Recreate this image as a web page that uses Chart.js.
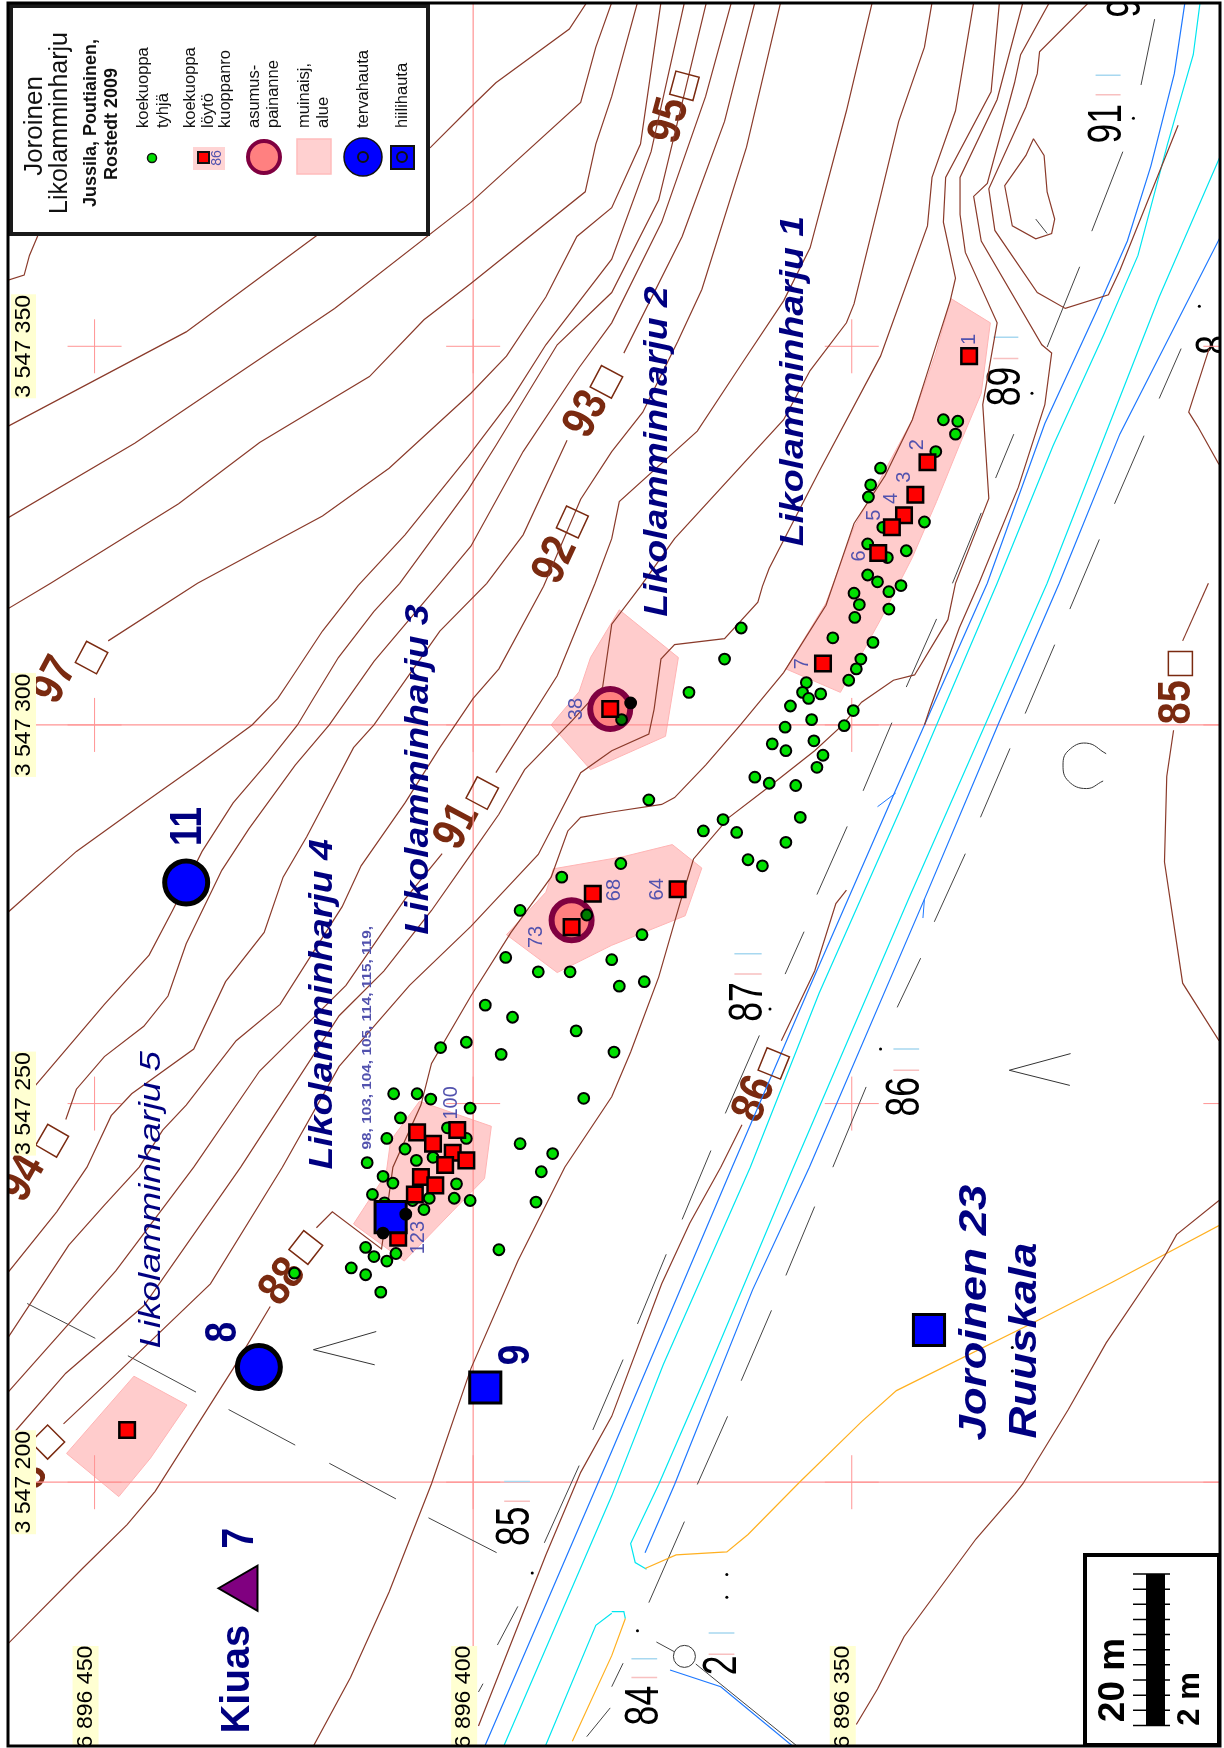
<!DOCTYPE html>
<html lang="fi">
<head>
<meta charset="utf-8">
<title>Joroinen Likolamminharju</title>
<script src="https://cdn.jsdelivr.net/npm/chart.js@4/dist/chart.umd.min.js"></script>
<style>
  html, body { margin: 0; background: #fff; }
  canvas { display: block; }
</style>
</head>
<body>
<canvas id="map" width="1224" height="1748"></canvas>
<script>
/* All positions: [metres north of 6 896 400, metres east of 3 547 300] */

/* Grid */
const northTicks = [50, 0, -50];
const eastTicks = [50, 0, -50, -100];
const crossNorth = [50, 0, -50, -100];
const gridLineNorth = [[0, 96], [0, -121.8]];
const gridLineEast0 = [[58, 0], [-99, 0]];
const gridLineEast100 = [[58, -100], [-99, -100]];

/* Contours */
const contourA = [[61.5,58.7],[59.3,59.4],[58.6,62],[57.5,64.6]];
const contourB = [[61.5,39.4],[37.9,51.9],[20.7,64.6],[5.6,76.3],[0.3,81.6],[-3,84.8],[-12.7,91.9],[-15,95.4]];
const contourC = [[61.5,27.3],[44.7,37.2],[18.3,55],[0.3,69],[-14.2,82.2],[-16.2,89.5],[-18.3,95.4]];
const contourD = [[-21.7,95.4],[-18.3,83],[-16.2,76.7],[-14.8,70.4],[0.3,58.3],[6.5,53.5],[13.7,46],[28.2,37.3],[38.9,29.2],[55.8,18.7],[61.5,15.3]];
const contourE = [[-24.8,95.4],[-22.1,76.7],[-18.3,68.3],[-13.7,64.5],[-9.6,56.5],[-4.4,48.7],[0.3,43.8],[11.1,33.9],[19.9,27.6],[36.4,18.7],[48.2,11.1]];
const contourF = [[-27.9,95.4],[-23.5,75.7],[-18.3,61.5],[-9.6,50.2],[-4.9,42.8],[0.7,35.4],[9,25.1],[15.2,18.4],[19.9,12.4],[24.2,5.9],[25.8,3.5],[29.2,0],[36.4,-5.3],[43.5,-10.3],[52.4,-16.7],[61.5,-24.8]];
const contourG = [[-30.8,95.4],[-24.5,69.3],[-18.3,57.1],[-11.1,50.2],[-3,36.9],[0.7,31],[9.7,18.7],[13.1,15],[17.8,8.9],[21.4,3],[23.2,0],[27.1,-4.9],[31.7,-10.3],[35.8,-16.7],[39.7,-24.5],[42.8,-30.4],[48.7,-36.9],[57.8,-47.6]];
const contourH = [[-34.1,95.4],[-30.7,83],[-24.9,66.4],[-18.3,53.1],[-14,47.2],[-6.6,36.1],[0.3,23.6],[4.4,18.7],[13.1,8.4],[19,0],[23.5,-5.3],[29.6,-13.7],[33.2,-19.2],[37.9,-28.9],[40.3,-35.8],[43.5,-39.8],[48.7,-43.8],[52.4,-48.1],[53.8,-52.1]];
const contourI1 = [[-37.2,95.4],[-33.2,79.7],[-27.6,64.5],[-19.9,49.1]];
const contourI2 = [[-12.4,37.6],[-6.6,25.1],[-1.8,18.7],[4.4,12.4],[13.1,0],[15.8,-3],[19.9,-10.8],[22,-14.8],[25.1,-20.1],[27.6,-27.4],[32.7,-33.9],[36.9,-42.8],[45.1,-48.7],[47.8,-51.6],[51,-58.4],[55,-64.3],[61.5,-72.4]];
const contourJ = [[-40.6,95.4],[-36.1,76.3],[-30.2,57.5],[-27,50.6],[-22.4,41.3],[-18.3,36.1],[-14.2,29.8],[-9.3,18.3],[-3.4,7.4],[0,3.5],[4.4,-3],[9,-10.3],[14.8,-18.6],[17.3,-24],[25.5,-36.9],[31.3,-41.7],[37.9,-50.2],[41,-53.5],[44.1,-58.4],[48.7,-63.4],[53.4,-68.7],[61.5,-81]];
const contourK1 = [[-52.7,95.4],[-49.3,81.1],[-44.5,63],[-41,56],[-35.4,47.6],[-29.6,38.8],[-19.3,29.5],[-18.3,24.6],[-16.1,18.7],[-11.1,6.5],[-3,-6.3]];
const contourK2 = [[4.1,-17],[9,-23],[16.8,-34.4],[28.2,-45.7],[36.9,-58.4],[47.2,-72.1],[61.5,-88.2]];
const contourL = [[-60.6,95.4],[-59.6,89.5],[-56.2,79.7],[-53.8,69.8],[-50.3,55.6],[-49.3,53.1],[-44.5,46.8],[-41,40.3],[-26.6,24.6],[-22.1,18.3],[-18.3,13.3],[-17.1,5],[-13.1,0.6],[-6.8,-5.9],[-3.4,-11.8],[0.3,-17.1],[5.5,-24.5],[11.8,-32.5],[17.7,-38.4],[30.7,-58.4],[43.5,-76.7],[53.8,-85.6],[60.6,-93.4]];
const contourM = [[-66.1,95.4],[-63.7,81.1],[-60.6,72.3],[-60,65.9],[-53.8,48.7],[-45.7,33.5],[-39.1,20.7],[-38.2,18.3],[-37.6,16.2],[-33.2,11.4],[-26.6,10.6],[-24.8,8.7],[-23.9,2.1],[-23.2,-1.2],[-18.3,-3.4],[-14.2,-6.3],[-8.6,-17.1],[0.3,-26.6],[8.4,-34.4],[17.7,-45.1],[25.2,-58.4],[34.7,-73.8],[47.2,-85.8],[54.1,-92.3]];
const contourN1 = [[-69.5,95.4],[-68.4,83.6],[-62.4,72.3],[-62.1,66.4],[-63.7,59],[-63,56],[-59.6,45.3],[-58,40.3],[-54.4,32.9],[-50.3,26.6],[-47.6,18.7],[-46.6,15.8],[-41,6.9],[-35.3,0],[-30.7,-5.3],[-26.6,-9.6],[-24.9,-10.5],[-18.3,-11.5],[-14.2,-12.2],[-12.5,-14],[-10.3,-20.1],[-5,-27.4],[0.3,-35.8],[5.5,-44.7],[6.9,-50.2],[10.6,-58.4],[12.1,-69.2],[18.6,-64.3],[20.7,-66.4]];
const contourN2 = [[26.8,-76.8],[31.7,-85],[42,-101.2],[45.7,-105.6],[51.6,-111.4],[61.5,-121.4]];
const contourO = [[-72.6,95.4],[-69.2,82.6],[-64.3,72.3],[-64.3,67.4],[-65,62.4],[-69.2,53.1],[-67.3,42.3],[-68.1,29.9],[-63.7,18.7],[-62.7,13.9],[-58.3,6.6],[-55.5,5.9],[-51.3,3],[-48.7,-0.1],[-45.1,-3.4],[-38.9,-8.3],[-33.8,-12.2],[-29.1,-17.7],[-27.3,-23.6],[-24.5,-33.3],[-20.8,-43.2],[-18.3,-49.1],[-12.1,-58.4],[-5.9,-70.8],[0.3,-85],[5.5,-100.2],[11.1,-114.5],[16.2,-125.8],[21.4,-135.4]];
const contourP1 = [[-76.1,95.4],[-72.3,88.5],[-71.5,84.8],[-67.9,71.5],[-66.1,69.8],[-67.1,63.9],[-75.1,50.2],[-76.4,49.1],[-75.5,42.3],[-72,31.4],[-66.8,18.7],[-64.2,12.8],[-60.3,2.1],[-59.6,0]];
const contourP2 = [[-49.3,-21.8],[-47.9,-23.6],[-45.1,-32.5],[-40.7,-41.7]];
const contourP3 = [[-35.5,-52.8],[-32.7,-58.4],[-28.6,-65.8],[-24.9,-73.8],[-18.3,-91.3],[-14.2,-98.7],[-9.6,-109.6],[-0.7,-132.2]];
const contourQ = [[-81.3,95.4],[-74.8,88.9],[-74.5,86],[-73,81.6],[-68.1,70.8],[-68.9,65.3],[-74.5,57.1],[-78.2,55],[-83.9,56.8],[-85.4,60],[-93.1,79.2]];
const contourHill = [[-74,77.4],[-75.4,75.2],[-75.8,70.4],[-76.8,66.8],[-76.4,64.9],[-74.3,64.2],[-71.2,65.9],[-70.2,71.2],[-73,75.2],[-74,77.4]];
const contourR1 = [[-97.1,18.7],[-93.7,11.1]];
const contourR2 = [[-92.5,-0.7],[-91.6,-6.8],[-91.3,-18.1],[-93.7,-34.1],[-98.5,-41.7]];
const contourR3 = [[-97.2,49.7],[-94.5,41.3],[-95.7,39.4],[-98.5,34.4]];
const contourS = [[-98.5,-62.8],[-92.9,-67.3],[-91.3,-70.2],[-83.6,-81.6],[-78.6,-90.4],[-72.6,-100.2],[-71.5,-101.6],[-66.4,-107.5],[-56.9,-120.4],[-53.4,-127.3],[-50.6,-132]];

/* Road, ditch and path lines */
const pathOrange = [[-98.5,-66.1],[-84.4,-73.6],[-74.6,-78.6],[-55.9,-87.9],[-51.3,-92],[-43.1,-100],[-36.3,-106.9],[-33.5,-109.2],[-26.8,-109.6],[-22.7,-111.4]];
const pathOrange2 = [[-20.1,-118],[-18.3,-122.9],[-13.1,-134.2]];
const roadBlueA = [[-94,95.4],[-92.6,86],[-89.5,73.8],[-86.4,63.9],[-82.3,54.6],[-75.5,39.8],[-67.9,18.7],[-59.6,0],[-55.5,-9.3],[-44.1,-35.4],[-34.2,-58.4],[-18.3,-95.9],[-1.3,-135.4]];
const roadCyanA = [[-96,95.4],[-95.1,88.5],[-91.7,76.7],[-87.8,62],[-83.3,51.6],[-76.6,36.9],[-69.2,18.7],[-61.2,0],[-56.8,-10.3],[-45.7,-35.4],[-36.6,-58.4],[-25.1,-84.5],[-18.3,-101.8],[-3.8,-135.4]];
const roadCyanB = [[-98.7,75.2],[-90.6,56.5],[-75.8,18.7],[-67.6,0],[-57.5,-23],[-42.3,-58.4],[-30.7,-86],[-24.5,-100.3],[-20.8,-108.1],[-21.4,-110.6],[-22.9,-111.5]];
const roadBlueB = [[-98.7,64.5],[-85.4,38.4],[-77.4,18.7],[-69.3,0],[-59.6,-23],[-44.4,-58.4],[-36.9,-74.6],[-26.6,-100.3],[-22.7,-109.3]];
const roadCyanC = [[-18.3,-117.3],[-16.2,-118.9],[-9.3,-135.4]];
const roadCyanD = [[-18.3,-117.1],[-19.9,-117.1],[-20.1,-118]];
const ditchBlue = [[-26,-124.8],[-32.7,-127],[-42.5,-135.1]];
const blueTicks = [[-53.4,-10.8,-55.8,-9],[-59.6,-23,-59.4,-25.5]];

/* Thin black line pieces: [n1, e1, n2, e2] */
const blackDashes = [
  [-90,93.2,-88.2,84.5],[-85.8,75.7,-81.7,65.2],[-80.1,60.5,-75.8,49.9],[-71.4,38.4,-69,32.6],
  [-93.5,49.7,-90.6,43.1],[-88.6,38.2,-84.7,29.2],[-82.7,24.5,-78.8,15.3],[-67.1,28,-63.3,18.7],
  [-76.8,10.6,-72.9,1.5],[-70.9,-3.1,-67,-12.2],[-65,-17,-60.9,-26],[-59.1,-30.8,-56,-37.3],
  [-51.9,-47.8,-47.5,-58.4],[-61.2,14,-57.2,5],[-55.3,0.3,-51.5,-8.7],[-49.4,-13.4,-45.4,-22.4],
  [-43.7,-27.3,-41.2,-32.9],[-37.8,-41,-33.3,-51.3],[-31.4,-56.2,-27.6,-65.3],[-25.5,-69.9,-21.7,-79.1],
  [-19.8,-83.8,-15.8,-93.1],[-45.1,-63.6,-41.3,-72.7],[-39.4,-77.3,-35.4,-86.6],[-33.6,-91.3,-29.6,-100.3],
  [-27.9,-105.2,-23.2,-115.9],[-19.8,-123.9,-18.3,-127],[-14,-97.8,-9.4,-108],[-5.9,-116.4,-3.2,-121.5],
  [-1.3,-126.6,-0.7,-127.7],[-18.1,-129.8,-15,-133.6],
  [58.9,-76.4,49.9,-81],[45.6,-83.3,36.6,-88.1],[32.3,-90.4,23.5,-95.1],[19,-97.5,10.2,-102.2],[5.9,-104.7,-3.1,-109.3],
  [-24.2,-121.1,-26.6,-122.4],[-29.4,-124,-43.1,-135.1],[-74.3,66.8,-75.8,64.9]
];
const vMarkWest = [[12.8,-80.1],[21.1,-82.5],[13,-84.5]];
const vMarkEast = [[-78.9,-43.4],[-70.8,-45.6],[-78.8,-47.6]];
const arcMark = [[-83.6,-3.8],[-81,-2.4],[-78.6,-3.4],[-77.9,-5.3],[-78.6,-7.4],[-81,-8.4],[-83.2,-7.4]];
const wellMark = [[-27.9,-123]];
const blackSpecks = [[-87.2,80.1],[-73.8,43.8],[-39.2,-37.5],[-53.8,-42.8],[-7.8,-112],[-21.7,-119.6],[-33.5,-112.2],[-33.5,-115.2],[-95.9,55.3],[-71.2,-82.2],[-71.2,-85.3]];
const paleBlueBars = [[-68.7,51.2,-72,51.2],[-82.2,85.8,-85.5,85.8],[-34.5,-30.2,-38.1,-30.2],[-55.5,-42.8,-58.9,-42.8],[-4.1,-99.9,-7.5,-99.9],[-20.9,-123.3,-24.3,-123.3],[-31.1,-119.9,-34.5,-119.9]];
const palePinkBars = [[-68.7,48.4,-72,48.4],[-82.2,83.2,-85.5,83.2],[-34.5,-32.9,-38.1,-32.9],[-55.5,-45.6,-58.9,-45.6],[-4.1,-102.5,-7.5,-102.5],[-20.9,-125.8,-24.3,-125.8],[-31.1,-122.7,-34.5,-122.7]];

/* Ancient site areas */
const siteArea1 = [[-63.1,56.3],[-68.3,53.1],[-67.1,43.8],[-64.2,36.9],[-61.2,29.5],[-58,22.1],[-53.8,13.9],[-48.5,4.3],[-41.3,7.4],[-46.6,16.1],[-50.3,26.1],[-58,40.3],[-61.1,49.1],[-63.1,56.3]];
const siteArea2 = [[-10.3,0],[-15.5,-5.9],[-25.4,-1.5],[-27.1,8.9],[-19.3,15.2],[-15.5,8.9],[-14,4.4],[-10.3,0]];
const siteArea3 = [[-4.4,-27.7],[-11.1,-32.7],[-18.3,-29.1],[-28,-25.2],[-30.2,-18.9],[-26.3,-15.8],[-19.8,-17.4],[-10.6,-19],[-9.6,-22.1],[-4.4,-27.7]];
const siteArea4 = [[7.1,-49.7],[-2.4,-53],[-1.5,-59.9],[2.7,-64.2],[9.1,-70.8],[15.8,-65.9],[11.5,-59.3],[10.9,-54.9],[7.1,-49.7]];
const siteArea5 = [[44.8,-86],[37.8,-89.8],[42.6,-96.8],[46.8,-101.9],[53.7,-96.2],[44.8,-86]];

/* Test pits and finds */
const emptyPits = [
  [-62.1,40.3],[-64,40.1],[-63.7,38.4],[-61.1,36.1],[-53.8,33.9],[-52.5,31.7],[-52.2,30.1],[-59.6,26.8],[-54.1,26.1],[-52.1,23.9],
  [-57.2,23],[-54.7,22.1],[-52.1,19.8],[-53.4,18.9],[-56.5,18.4],[-50.3,17.4],[-51,15.9],[-50.4,14.2],[-54.9,17.6],[-54.9,15.3],
  [-47.5,11.5],[-52.8,10.9],[-51.2,8.7],[-50.6,7.4],[-49.6,5.9],[-44,5.6],[-43.5,4.3],[-44.3,3.5],[-45.9,4.1],[-41.9,2.5],
  [-50.2,1.9],[-44.7,0.7],[-41.2,-0.3],[-49,-0.1],[-45,-2.1],[-39.5,-2.5],[-41.3,-3.4],[-46.2,-4],[-45.4,-5.6],[-37.2,-6.9],
  [-39.1,-7.7],[-42.6,-8],[-23.2,-9.9],[-43.2,-12.2],[-33,-12.5],[-30.4,-14],[-34.8,-14.2],[-41.3,-15.5],[-36.3,-17.8],[-38.2,-18.6],
  [-19.5,-18.3],[-22.3,-27.7],[-22.6,-33.9],[-19.3,-34.5],[-18.3,-31],[-18.6,-43.2],[-35.4,12.8],[-33.2,8.7],[-28.5,4.3],[-11.7,-20.1],
  [-6.2,-24.5],[-4.3,-30.7],[-8.6,-32.6],[-12.8,-32.6],[-1.6,-37],[-5.2,-38.6],[-13.6,-40.4],[0.9,-41.9],[4.3,-42.6],[-3.7,-43.5],
  [-14.6,-49.3],[10.5,-48.7],[7.4,-48.7],[5.6,-49.4],[0.4,-50.6],[9.6,-51.9],[-6.2,-55.3],[-10.5,-56.6],[11.4,-54.6],[-9,-59],
  [-8.3,-63],[-3.4,-69.3],[9,-56],[14,-57.8],[7.5,-57.5],[5.3,-57.1],[3.4,-53.2],[0.9,-54.6],[11.9,-59.6],[10.6,-60.5],
  [2.2,-60.6],[2.5,-62.5],[0.4,-62.8],[13.3,-62],[11.7,-63.1],[5.8,-62.5],[6.5,-64],[8,-62.8],[14.2,-69],[13.1,-70.2],
  [11.4,-70.8],[10.2,-69.8],[16.1,-71.7],[14.2,-72.6],[12.2,-74.9],[23.6,-72.4]
];
const darkPits = [[-19.6,0.7],[-15,-25.1]];
const blackPits = [[-20.8,2.9],[11.9,-67.1],[8.9,-64.6]];
const findPits = [
  [-65.5,48.7],[-60,34.7],[-58.4,30.4],[-56.9,27.7],[-55.3,26.1],[-53.5,22.7],[-46.2,8.1],[-18.1,2.1],[-27,-21.7],[-15.8,-22.3],
  [-13,-26.7],[7.4,-53.8],[5.3,-55.3],[2.1,-53.5],[2.7,-56.5],[0.9,-57.5],[3.7,-58.1],[6.9,-59.7],[5,-60.8],[7.7,-62],[9.9,-67.7],[45.7,-93.1]
];
const charcoalPits = [[-1.6,-87.5],[-60.2,-79.9],[10.9,-65]];
const tarPits = [[28.3,-84.8],[37.9,-20.8]];
const dwellingPits = [[-18.1,2.1],[-13,-25.8]];
const hearths = [[30.2,-114]];

/* Text */
const siteNames = [
  ["Likolamminharju 1",-42.3,45.4],["Likolamminharju 2",-24.3,36.1],["Likolamminharju 3",7.2,-5.9],["Likolamminharju 4",19.9,-36.9]
];
const featureNumbers = [["8",32.9,-80.2],["9",-5.8,-83.2],["11",37.6,-13.4],["7",30.7,-107.4]];
const pitNumbers = [
  ["1",-65.5,50.9],["2",-58.7,37],["3",-56.9,32.7],["4",-55.3,29.9],["5",-53,27.7],["6",-51,22.3],["7",-43.5,8.1],
  ["38",-13.7,2.1],["64",-24.3,-21.7],["68",-18.7,-21.8],["73",-8.4,-28],["100",2.8,-49.9],["123",7.2,-67.7]
];
const contourLabels = [
  ["95",-26,79.8,-75],["93",-15,41,-62],["92",-10.9,21.7,-65],["97",55.2,5.9,-62],["91",2.1,-13.4,-62],
  ["94",59.4,-59.9,-60],["88",25.1,-73.6,-52],["86",-37.2,-49.4,-68],["85",-92.9,3,-90],["8",58.3,-99.1,-60]
];
const contourBoxes = [[-27.9,84.4],[-17.6,45.3],[-13.1,26.8],[50.4,8.9],[-1.2,-9],[55.6,-54.9],[22.1,-69],[-39.7,-44.7],[-93.4,8.1],[56.2,-94.7]];
const contourBoxAngles = [-75,-62,-65,-62,-62,-60,-52,-68,-90,-45];
const heightLabels = [["91",-83.8,79.4],["89",-70.5,44.7],["87",-36.4,-36.6],["86",-57.1,-49.1],["85",-5.6,-105.8],["84",-22.6,-129.5],["2",-32.9,-124.2],["9",-86.3,94.7],["8",-98.1,50.2]];

const BROWN = "#8a3a2a";
const LABEL_BROWN = "#7a2a10";
const NAVY = "#000080";
const NUMBER_BLUE = "#5252ae";
const GRID_PINK = "#ff9494";
const SANS = '"Liberation Sans"';

const toPoints = (pairs) => pairs.map(([x, y]) => ({ x, y }));

const toPieces = (pieces) =>
  pieces.flatMap(([a, b, c, d]) => [{ x: a, y: b }, { x: c, y: d }, { x: NaN, y: NaN }]);

function lineSet(data, color, width, tension) {
  return {
    data,
    showLine: true,
    borderColor: color,
    borderWidth: width || 1,
    pointRadius: 0,
    tension: tension || 0,
    fill: false
  };
}

function markSet(pairs, style, radius, fill, stroke, strokeWidth, rotation) {
  return {
    data: toPoints(pairs),
    showLine: false,
    pointStyle: style,
    pointRadius: radius,
    pointBackgroundColor: fill,
    pointBorderColor: stroke,
    pointBorderWidth: strokeWidth,
    pointRotation: rotation || 0
  };
}

function areaSet(pairs) {
  return {
    data: toPoints(pairs),
    showLine: true,
    borderColor: "#ffb4b4",
    borderWidth: 1,
    backgroundColor: "#ffcccc",
    pointRadius: 0,
    fill: "shape"
  };
}

const crossPairs = crossNorth.flatMap((n) => eastTicks.map((e) => [n, e]));

const contourLines = [
  contourA, contourB, contourC, contourD, contourE, contourF, contourG, contourH, contourI1, contourI2,
  contourJ, contourK1, contourK2, contourL, contourM, contourN1, contourN2, contourO, contourP1, contourP2,
  contourP3, contourQ, contourHill, contourR1, contourR2, contourR3, contourS
];

/* first dataset ends up on top */
const datasets = [
  markSet(blackPits, "circle", 5.4, "#000000", "#000000", 2),
  markSet(charcoalPits, "rect", 22, "#0000ff", "#000000", 3),
  markSet(findPits, "rect", 11, "#ff0000", "#000000", 2.5),
  markSet(darkPits, "circle", 5.4, "#007a00", "#000000", 2),
  markSet(emptyPits, "circle", 5.4, "#00e000", "#000000", 2),
  markSet(tarPits, "circle", 21.5, "#0000ff", "#000000", 5),
  markSet(dwellingPits, "circle", 20, "#ff8080", "#800040", 6),
  markSet(hearths, "triangle", 26, "#800080", "#000000", 2, -90),
  markSet(contourBoxes, "rect", 17, "rgba(0,0,0,0)", LABEL_BROWN, 1.5, 0),
  ...contourLines.map((pts) => lineSet(toPoints(pts), BROWN, 1.2)),
  lineSet(toPoints(pathOrange), "#ffb020", 1.2),
  lineSet(toPoints(pathOrange2), "#ffb020", 1.2),
  lineSet(toPoints(roadBlueA), "#1e78ff", 1.2),
  lineSet(toPoints(roadBlueB), "#1e78ff", 1.2),
  lineSet(toPoints(roadCyanA), "#00e6f0", 1.2),
  lineSet(toPoints(roadCyanB), "#00e6f0", 1.2),
  lineSet(toPoints(roadCyanC), "#00e6f0", 1.2),
  lineSet(toPoints(roadCyanD), "#00e6f0", 1.2),
  lineSet(toPoints(ditchBlue), "#1e78ff", 1.2),
  lineSet(toPieces(blueTicks), "#1e78ff", 1),
  lineSet(toPieces(blackDashes), "#444444", 1),
  lineSet(toPoints(vMarkWest), "#333333", 1),
  lineSet(toPoints(vMarkEast), "#333333", 1),
  lineSet(toPoints(arcMark), "#333333", 1, 0.45),
  markSet(wellMark, "circle", 11, "rgba(0,0,0,0)", "#333333", 1),
  markSet(blackSpecks, "circle", 1.5, "#000000", "#000000", 0),
  lineSet(toPieces(paleBlueBars), "#a8d8f0", 1.5),
  lineSet(toPieces(palePinkBars), "#f8c0c0", 1.5),
  markSet(crossPairs, "cross", 27, GRID_PINK, GRID_PINK, 1),
  lineSet(toPoints(gridLineNorth), GRID_PINK, 1.2),
  lineSet(toPoints(gridLineEast0), GRID_PINK, 1.2),
  lineSet(toPoints(gridLineEast100), GRID_PINK, 1.2),
  areaSet(siteArea1),
  areaSet(siteArea2),
  areaSet(siteArea3),
  areaSet(siteArea4),
  areaSet(siteArea5)
];
/* per point rotation for the label boxes */
datasets[8].pointRotation = contourBoxAngles;

/* text helper: angle in degrees, map text mostly reads bottom to top.
   stretch widens the text along its direction, the scanned map's lettering is not in proportion */
function drawText(ctx, text, x, y, font, color, angle, align, stretch) {
  ctx.save();
  ctx.translate(x, y);
  ctx.rotate(((angle === undefined ? -90 : angle) * Math.PI) / 180);
  ctx.scale(stretch || 1, 1);
  ctx.font = font;
  ctx.fillStyle = color;
  ctx.textAlign = align || "center";
  ctx.textBaseline = "middle";
  ctx.fillText(text, 0, 0);
  ctx.restore();
}

function drawLegendBox(ctx) {
  ctx.save();
  ctx.fillStyle = "#ffffff";
  ctx.strokeStyle = "#1a1a1a";
  ctx.lineWidth = 4;
  ctx.fillRect(11, 6, 417, 228);
  ctx.strokeRect(11, 6, 417, 228);

  drawText(ctx, "Joroinen", 35, 126, `26px ${SANS}`, "#111");
  drawText(ctx, "Likolamminharju", 60, 123, `25px ${SANS}`, "#111");
  drawText(ctx, "Jussila, Poutiainen,", 91, 123, `bold 18px ${SANS}`, "#111");
  drawText(ctx, "Rostedt 2009", 112, 124, `bold 18px ${SANS}`, "#111");

  const small = `16.5px ${SANS}`;
  [
    ["koekuoppa", 143], ["tyhjä", 163], ["koekuoppa", 190], ["löytö", 208], ["kuoppanro", 225],
    ["asumus-", 254], ["painanne", 273], ["muinaisj,", 304], ["alue", 323], ["tervahauta", 363], ["hiilihauta", 402]
  ].forEach(([t, x]) => drawText(ctx, t, x, 128, small, "#111", -90, "left"));

  // symbols
  ctx.fillStyle = "#00e000";
  ctx.strokeStyle = "#111";
  ctx.lineWidth = 1.5;
  ctx.beginPath();
  ctx.arc(152, 158, 4.5, 0, Math.PI * 2);
  ctx.fill();
  ctx.stroke();

  ctx.fillStyle = "#ffd4d4";
  ctx.fillRect(193, 147, 32, 23);
  ctx.fillStyle = "#ff0000";
  ctx.lineWidth = 2;
  ctx.fillRect(198, 152, 11, 11);
  ctx.strokeRect(198, 152, 11, 11);
  drawText(ctx, "86", 217, 158, `14px ${SANS}`, NUMBER_BLUE);

  ctx.fillStyle = "#ff8080";
  ctx.strokeStyle = "#800040";
  ctx.lineWidth = 4;
  ctx.beginPath();
  ctx.arc(264, 157, 16, 0, Math.PI * 2);
  ctx.fill();
  ctx.stroke();

  ctx.fillStyle = "#ffd0d0";
  ctx.strokeStyle = "#ffbcbc";
  ctx.lineWidth = 1.5;
  ctx.fillRect(297, 139, 34, 35);
  ctx.strokeRect(297, 139, 34, 35);

  ctx.fillStyle = "#0000ff";
  ctx.strokeStyle = "#111";
  ctx.lineWidth = 1.5;
  ctx.beginPath();
  ctx.arc(363, 157, 19, 0, Math.PI * 2);
  ctx.fill();
  ctx.stroke();
  ctx.fillStyle = "#0000ff";
  ctx.fillRect(391, 146, 23, 23);
  ctx.lineWidth = 2;
  ctx.strokeRect(391, 146, 23, 23);
  [363, 402].forEach((x) => {
    ctx.beginPath();
    ctx.arc(x, 157, 5, 0, Math.PI * 2);
    ctx.stroke();
  });
  ctx.restore();
}

function drawScaleBar(ctx, yScale) {
  // bar is measured with the map scale: 20 m long, ticks every 2 m
  const step = yScale.getPixelForValue(0) - yScale.getPixelForValue(2);
  const top = 1574;
  ctx.save();
  ctx.fillStyle = "#ffffff";
  ctx.strokeStyle = "#000";
  ctx.lineWidth = 4;
  ctx.fillRect(1085, 1555, 134, 190);
  ctx.strokeRect(1085, 1555, 134, 190);
  ctx.fillStyle = "#000";
  ctx.fillRect(1146, top, 19, step * 10);
  ctx.lineWidth = 1.5;
  for (let i = 0; i <= 10; i++) {
    ctx.beginPath();
    ctx.moveTo(1133, top + i * step);
    ctx.lineTo(1170, top + i * step);
    ctx.stroke();
  }
  ctx.restore();
  drawText(ctx, "20 m", 1114, 1680, `bold 37px ${SANS}`, "#000");
  drawText(ctx, "2 m", 1190, 1699, `bold 31px ${SANS}`, "#000");
}

function clipToMap(ctx, area) {
  ctx.beginPath();
  ctx.rect(area.left, area.top, area.width, area.height);
  ctx.clip();
}

const mapTextPlugin = {
  id: "mapText",

  // height labels sit under the marks and lines
  beforeDatasetsDraw(chart) {
    const { ctx, chartArea, scales } = chart;
    const px = (n) => scales.x.getPixelForValue(n);
    const py = (e) => scales.y.getPixelForValue(e);

    ctx.save();
    clipToMap(ctx, chartArea);
    contourLabels.forEach(([t, n, e, a]) =>
      drawText(ctx, t, px(n), py(e), `bold 47px ${SANS}`, LABEL_BROWN, a, "center", 0.85));
    heightLabels.forEach(([t, n, e]) =>
      drawText(ctx, t, px(n), py(e), `48px ${SANS}`, "#000", -90, "center", 0.74));
    ctx.restore();
  },

  afterDraw(chart) {
    const { ctx, chartArea, scales } = chart;
    const px = (n) => scales.x.getPixelForValue(n);
    const py = (e) => scales.y.getPixelForValue(e);

    ctx.save();
    clipToMap(ctx, chartArea);

    siteNames.forEach(([t, n, e]) =>
      drawText(ctx, t, px(n), py(e), `italic bold 34px ${SANS}`, NAVY, -90, "center", 1.1));
    drawText(ctx, "Likolamminharju 5", px(42.5), py(-62.7), `italic 30px ${SANS}`, NAVY, -90, "center", 1.22);
    drawText(ctx, "Joroinen 23", px(-66.4), py(-77.6), `italic bold 38px ${SANS}`, NAVY, -90, "center", 1.2);
    drawText(ctx, "Ruuskala", px(-73), py(-81.3), `italic bold 38px ${SANS}`, NAVY, -90, "center", 1.16);
    drawText(ctx, "Kiuas", px(31.1), py(-126), `bold 40px ${SANS}`, NAVY);
    featureNumbers.forEach(([t, n, e]) =>
      drawText(ctx, t, px(n), py(e), `bold 44px ${SANS}`, NAVY, -90, "center", 0.84));

    pitNumbers.forEach(([t, n, e]) =>
      drawText(ctx, t, px(n), py(e), `20px ${SANS}`, NUMBER_BLUE));
    drawText(ctx, "98, 103, 104, 105, 114, 115, 119,", px(13.9), py(-41.3), `bold 13px ${SANS}`, NUMBER_BLUE, -90, "center", 1.18);

    // coordinate labels
    eastTicks.forEach((e) => {
      ctx.fillStyle = "#ffffd2";
      ctx.fillRect(11, py(e) - 52, 25, 104);
      drawText(ctx, `3 547 ${300 + e}`, 24, py(e), `22px ${SANS}`, "#000", -90, "center", 1.05);
    });
    northTicks.forEach((n) => {
      ctx.fillStyle = "#ffffd2";
      ctx.fillRect(px(n) - 22, 1646, 26, 102);
      drawText(ctx, `6 896 ${400 + n}`, px(n) - 9, 1697, `22px ${SANS}`, "#000", -90, "center", 1.05);
    });
    ctx.restore();

    drawLegendBox(ctx);
    drawScaleBar(ctx, scales.y);

    // map frame
    ctx.save();
    ctx.strokeStyle = "#000";
    ctx.lineWidth = 3;
    ctx.strokeRect(chartArea.left - 1, chartArea.top - 1, chartArea.width + 2, chartArea.height + 2);
    ctx.restore();
  }
};

new Chart(document.getElementById("map"), {
  type: "scatter",
  data: { datasets },
  plugins: [mapTextPlugin],
  options: {
    responsive: false,
    animation: false,
    layout: { autoPadding: false, padding: { left: 9, top: 4, right: 5, bottom: 3 } },
    plugins: {
      legend: { display: false },
      tooltip: { enabled: false }
    },
    scales: {
      x: { type: "linear", reverse: true, min: -98.5, max: 61.3, display: false },
      y: { type: "linear", min: -134.7, max: 95.2, display: false }
    }
  }
});
</script>
</body>
</html>
